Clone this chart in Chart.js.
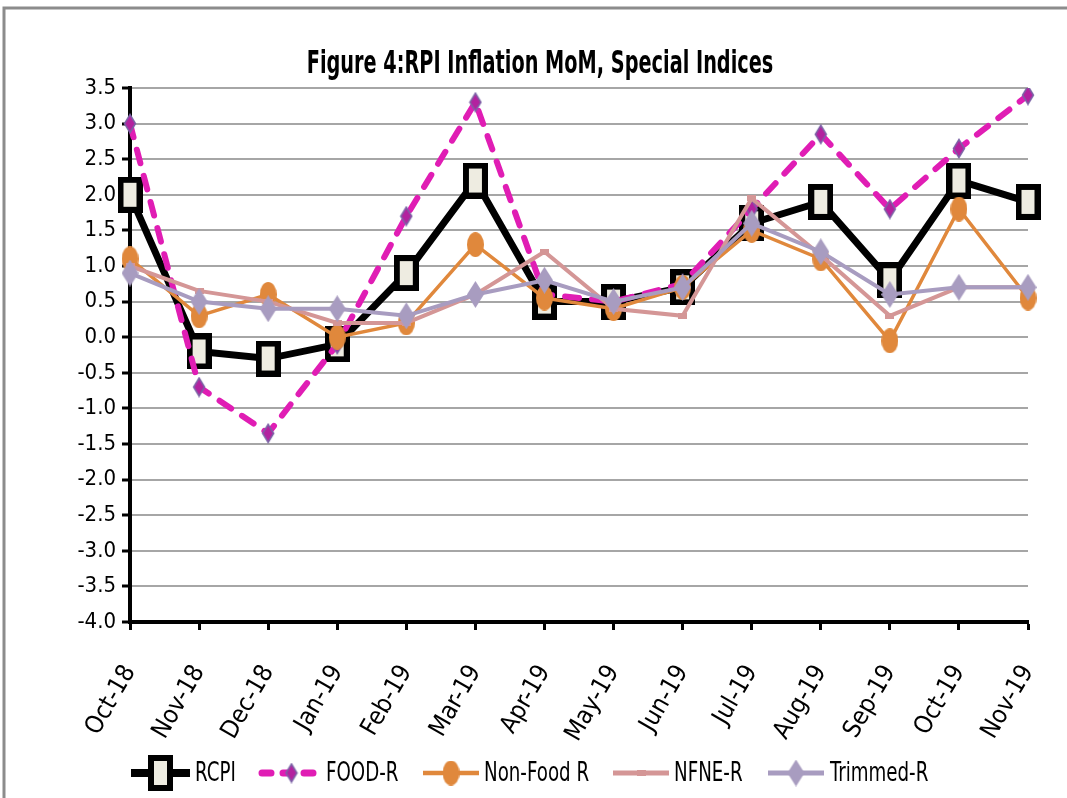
<!DOCTYPE html>
<html>
<head>
<meta charset="utf-8">
<script src="https://cdn.jsdelivr.net/npm/chart.js@4/dist/chart.umd.min.js"></script>
<style>
  html, body { margin: 0; padding: 0; background: #fff; }
  canvas { display: block; }
</style>
</head>
<body>
<canvas id="c" width="1067" height="798"></canvas>
<script>
// ---- Data ----
const categories = ['Oct-18','Nov-18','Dec-18','Jan-19','Feb-19','Mar-19','Apr-19','May-19','Jun-19','Jul-19','Aug-19','Sep-19','Oct-19','Nov-19'];
const rcpi     = [2.0, -0.2, -0.3, -0.1, 0.9, 2.2, 0.5, 0.5, 0.7, 1.6, 1.9, 0.8, 2.2, 1.9];
const foodR    = [3.0, -0.7, -1.35, -0.1, 1.7, 3.3, 0.6, 0.5, 0.75, 1.8, 2.85, 1.8, 2.65, 3.4];
const nonFoodR = [1.1, 0.3, 0.6, 0.0, 0.2, 1.3, 0.55, 0.4, 0.7, 1.5, 1.1, -0.05, 1.8, 0.55];
const nfneR    = [1.0, 0.65, 0.5, 0.2, 0.2, 0.6, 1.2, 0.4, 0.3, 1.95, 1.15, 0.3, 0.7, 0.7];
const trimmedR = [0.9, 0.5, 0.4, 0.4, 0.3, 0.6, 0.8, 0.5, 0.7, 1.6, 1.2, 0.6, 0.7, 0.7];
const seriesNames = ['RCPI', 'FOOD-R', 'Non-Food R', 'NFNE-R', 'Trimmed-R'];
const yMin = -4.0, yMax = 3.5, yStep = 0.5;
const titleText = 'Figure 4:RPI Inflation MoM, Special Indices';

const FONT = "'Liberation Sans Narrow', 'DejaVu Sans Condensed', 'Open Sans', sans-serif";

// ---- Marker images ----
function mk(w, h) { const c = document.createElement('canvas'); c.width = w; c.height = h; return c; }
function rectMarker(w, h, lw, fill, stroke) {
  const c = mk(w, h), x = c.getContext('2d');
  x.fillStyle = stroke; x.fillRect(0, 0, w, h);
  x.fillStyle = fill; x.fillRect(lw, lw, w - 2 * lw, h - 2 * lw);
  return c;
}
function ellipseMarker(w, h, fill) {
  const c = mk(w, h), x = c.getContext('2d');
  x.fillStyle = fill; x.beginPath(); x.ellipse(w / 2, h / 2, w / 2, h / 2, 0, 0, Math.PI * 2); x.fill();
  return c;
}
function diamondMarker(w, h, fill, stroke, lw) {
  const c = mk(w, h), x = c.getContext('2d');
  const p = lw || 0;
  x.beginPath();
  x.moveTo(w / 2, p); x.lineTo(w - p, h / 2); x.lineTo(w / 2, h - p); x.lineTo(p, h / 2); x.closePath();
  x.fillStyle = fill; x.fill();
  if (stroke) { x.lineWidth = lw; x.strokeStyle = stroke; x.stroke(); }
  return c;
}

const mRCPI = rectMarker(25, 36, 6, '#eeece1', '#000000');
const mFood = diamondMarker(14, 21, '#b3229f', '#7b62a6', 1.5);
const mNonFood = ellipseMarker(17, 25, '#e0883c');
const mNFNE = rectMarker(9, 6, 0, '#d49696', '#d49696');
const mTrim = diamondMarker(17, 27, '#a89cc0');

const datasets = [
  { label: seriesNames[0], data: rcpi, borderColor: '#000000', borderWidth: 7, pointStyle: mRCPI, order: 4, borderJoinStyle: 'miter' },
  { label: seriesNames[1], data: foodR, borderColor: '#e01db4', borderWidth: 6, borderDash: [14, 13], borderCapStyle: 'round', pointStyle: mFood, order: 3 },
  { label: seriesNames[2], data: nonFoodR, borderColor: '#e0883c', borderWidth: 3.5, pointStyle: mNonFood, order: 2 },
  { label: seriesNames[3], data: nfneR, borderColor: '#d49696', borderWidth: 4, pointStyle: mNFNE, order: 1 },
  { label: seriesNames[4], data: trimmedR, borderColor: '#a89cc0', borderWidth: 4, pointStyle: mTrim, order: 0 }
].map(d => Object.assign({ backgroundColor: d.borderColor, tension: 0, fill: false, pointRadius: 10 }, d));

function squeezedText(ctx, text, x, y, sx, align) {
  ctx.save();
  ctx.translate(x, y);
  ctx.scale(sx, 1);
  ctx.textAlign = align;
  ctx.fillText(text, 0, 0);
  ctx.restore();
}

// ---- Custom title, legend, frame ----
const decor = {
  id: 'decor',
  beforeDraw(chart) {
    const ctx = chart.ctx;
    ctx.save();
    ctx.fillStyle = '#fff';
    ctx.fillRect(0, 0, chart.width, chart.height);
    ctx.restore();
  },
  afterDraw(chart) {
    const ctx = chart.ctx;
    ctx.save();
    // frame
    ctx.strokeStyle = '#8c8c8c';
    ctx.lineWidth = 3;
    ctx.beginPath();
    ctx.moveTo(4, chart.height); ctx.lineTo(4, 8); ctx.lineTo(chart.width, 8);
    ctx.stroke();
    // title
    ctx.fillStyle = '#000';
    ctx.font = 'bold 32px ' + FONT;
    ctx.textBaseline = 'middle';
    squeezedText(ctx, titleText, 540, 65, 0.67, 'center');
    // legend
    const items = [
      { x0: 131, x1: 190, tx: 195 },
      { x0: 262, x1: 321, tx: 326 },
      { x0: 423, x1: 479, tx: 484 },
      { x0: 613, x1: 669, tx: 674 },
      { x0: 768, x1: 824, tx: 830 }
    ];
    const ly = 773;
    chart.data.datasets.forEach((ds, i) => {
      const it = items[i];
      ctx.save();
      ctx.strokeStyle = ds.borderColor;
      ctx.lineWidth = ds.borderWidth + 1;
      ctx.lineCap = ds.borderCapStyle || 'butt';
      ctx.setLineDash(ds.borderDash ? [9, 12] : []);
      ctx.beginPath();
      ctx.moveTo(it.x0, ly); ctx.lineTo(it.x1, ly);
      ctx.stroke();
      ctx.restore();
      const m = ds.pointStyle;
      const cx = (it.x0 + it.x1) / 2;
      ctx.drawImage(m, cx - m.width / 2, ly - m.height / 2);
      ctx.fillStyle = '#000';
      ctx.font = '26px ' + FONT;
      ctx.textBaseline = 'middle';
      squeezedText(ctx, ds.label, it.tx, ly + 1, 0.78, 'left');
    });
    ctx.restore();
  }
};

new Chart(document.getElementById('c'), {
  type: 'line',
  data: { labels: categories, datasets },
  options: {
    responsive: false,
    animation: false,
    devicePixelRatio: 1,
    layout: { padding: { top: 88, left: 0, right: 39, bottom: 0 } },
    plugins: { legend: { display: false }, title: { display: false }, tooltip: { enabled: false } },
    scales: {
      x: {
        offset: false,
        afterFit(s) { s.height = 176; s.paddingRight = 0; s.paddingLeft = 0; },
        grid: { drawOnChartArea: false, drawTicks: true, tickLength: 8, tickColor: '#000', tickWidth: 3 },
        border: { color: '#000', width: 4 },
        ticks: { autoSkip: false, maxRotation: 60, minRotation: 60, padding: 30, color: '#000', font: { family: FONT, size: 25 } }
      },
      y: {
        min: yMin, max: yMax,
        afterFit(s) { s.width = 130; },
        grid: { color: '#a6a6a6', lineWidth: 2, drawTicks: true, tickLength: 8, tickColor: '#000', tickWidth: 3 },
        border: { color: '#000', width: 4 },
        ticks: { stepSize: yStep, padding: 6, color: '#000', font: { family: FONT, size: 22 },
                 callback: v => Number(v).toFixed(1) }
      }
    }
  },
  plugins: [decor]
});
</script>
</body>
</html>
